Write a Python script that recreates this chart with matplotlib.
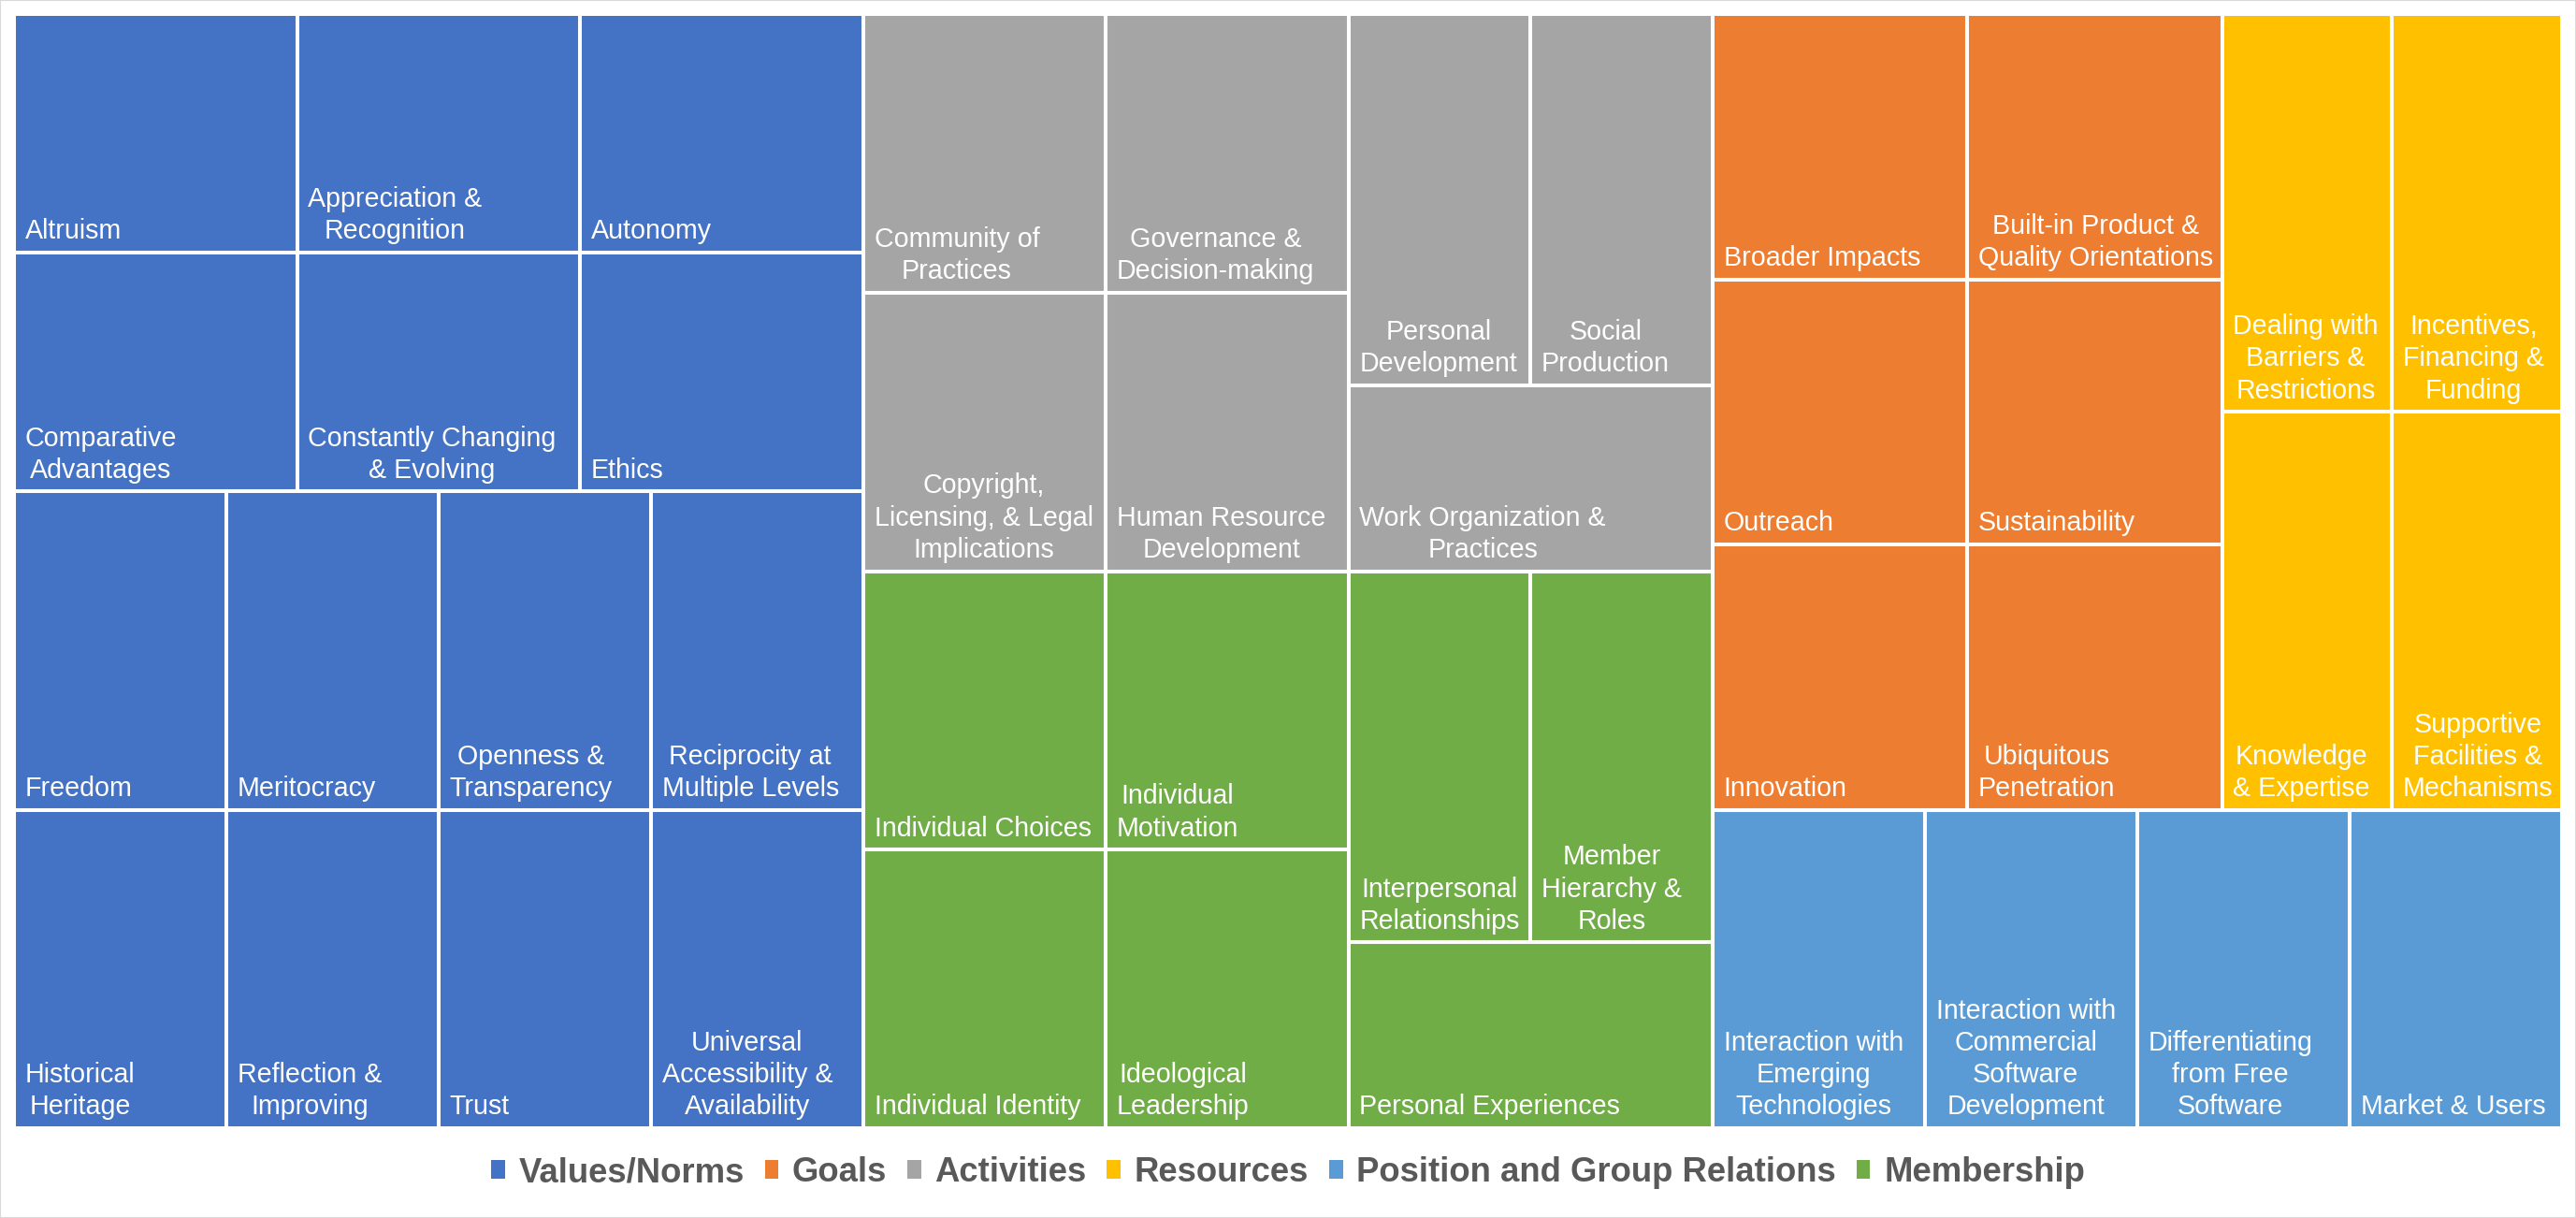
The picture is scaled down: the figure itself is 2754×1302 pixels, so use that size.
import matplotlib.pyplot as plt
from matplotlib.patches import Rectangle, Patch

plt.rcParams['font.family'] = ['Liberation Sans', 'DejaVu Sans']

# series in legend order
categories = ["Values/Norms", "Goals", "Activities", "Resources",
              "Position and Group Relations", "Membership"]
colors = ["#4472C4", "#ED7D31", "#A5A5A5", "#FFC000", "#5B9BD5", "#70AD47"]

values_labels = ["Altruism", "Appreciation &\nRecognition", "Autonomy",
                 "Comparative\nAdvantages", "Constantly Changing\n& Evolving", "Ethics",
                 "Freedom", "Meritocracy", "Openness &\nTransparency",
                 "Reciprocity at\nMultiple Levels",
                 "Historical\nHeritage", "Reflection &\nImproving", "Trust",
                 "Universal\nAccessibility &\nAvailability"]
values_sizes = [1, 1, 1, 1, 1, 1, 1, 1, 1, 1, 1, 1, 1, 1]

goals_labels = ["Broader Impacts", "Built-in Product &\nQuality Orientations",
                "Outreach", "Sustainability", "Innovation", "Ubiquitous\nPenetration"]
goals_sizes = [1, 1, 1, 1, 1, 1]

activities_labels = ["Community of\nPractices", "Copyright,\nLicensing, & Legal\nImplications",
                     "Governance &\nDecision-making", "Human Resource\nDevelopment",
                     "Personal\nDevelopment", "Social\nProduction",
                     "Work Organization &\nPractices"]
activities_sizes = [1, 1, 1, 1, 1, 1, 1]

resources_labels = ["Dealing with\nBarriers &\nRestrictions", "Incentives,\nFinancing &\nFunding",
                    "Knowledge\n& Expertise", "Supportive\nFacilities &\nMechanisms"]
resources_sizes = [1, 1, 1, 1]

position_labels = ["Interaction with\nEmerging\nTechnologies",
                   "Interaction with\nCommercial\nSoftware\nDevelopment",
                   "Differentiating\nfrom Free\nSoftware", "Market & Users"]
position_sizes = [1, 1, 1, 1]

membership_labels = ["Individual Choices", "Individual Identity", "Individual\nMotivation",
                     "Ideological\nLeadership", "Interpersonal\nRelationships",
                     "Member\nHierarchy &\nRoles", "Personal Experiences"]
membership_sizes = [1, 1, 1, 1, 1, 1, 1]

labels = [values_labels, goals_labels, activities_labels, resources_labels,
          position_labels, membership_labels]
sizes = [values_sizes, goals_sizes, activities_sizes, resources_sizes,
         position_sizes, membership_sizes]

# layout: order of groups and how each rectangle is cut into strips
group_order = [0, 2, 5, 1, 3, 4]
group_plan = [("col", 1), ("col", 2), ("row", 2), ("row", 1)]
item_plans = {
    0: [("row", 3), ("row", 3), ("row", 4), ("row", 4)],
    1: [("row", 2), ("row", 2), ("row", 2)],
    2: [("col", 2), ("col", 2), ("row", 2), ("row", 1)],
    3: [("row", 2), ("row", 2)],
    4: [("row", 4)],
    5: [("col", 2), ("col", 2), ("row", 2), ("row", 1)],
}


def strip_layout(vals, x, y, w, h, plan):
    rects = []
    i = 0
    for direction, n in plan:
        chunk = vals[i:i + n]
        frac = sum(chunk) / sum(vals[i:])
        pos = 0
        if direction == "row":
            band = h * frac
            for v in chunk:
                cw = w * v / sum(chunk)
                rects.append((x + pos, y, cw, band))
                pos += cw
            y += band
            h -= band
        else:
            band = w * frac
            for v in chunk:
                ch = h * v / sum(chunk)
                rects.append((x, y + pos, band, ch))
                pos += ch
            x += band
            w -= band
        i += n
    return rects


W, H = 2754, 1302
fig = plt.figure(figsize=(W / 100, H / 100), dpi=100)
fig.patch.set_facecolor("white")
ax = fig.add_axes([15 / W, (H - 1206) / H, 2724 / W, 1191 / H])
ax.set_xlim(0, 1)
ax.set_ylim(1, 0)
ax.axis("off")

totals = [sum(sizes[g]) for g in group_order]
group_rects = strip_layout(totals, 0, 0, 1, 1, group_plan)

for g, (gx, gy, gw, gh) in zip(group_order, group_rects):
    cells = strip_layout(sizes[g], gx, gy, gw, gh, item_plans[g])
    for lab, (cx, cy, cw, ch) in zip(labels[g], cells):
        ax.add_patch(Rectangle((cx, cy), cw, ch, facecolor=colors[g],
                               edgecolor="white", linewidth=2.9))
        ax.annotate(lab, xy=(cx, cy + ch), xytext=(8.3, 6.3),
                    textcoords="offset points", ha="left", va="bottom",
                    multialignment="center", color="white", fontsize=20.6,
                    linespacing=1.28)

handles = [Patch(facecolor=c, edgecolor="none") for c in colors]
leg = fig.legend(handles, categories, loc="center", bbox_to_anchor=(0.5, 0.037),
                 ncol=6, frameon=False, handlelength=0.4, handleheight=0.45,
                 handletextpad=0.4, columnspacing=0.6,
                 prop={"weight": "bold", "size": 26.3})
for t in leg.get_texts():
    t.set_color("#595959")

fig.add_artist(Rectangle((0, 0), 1, 1, transform=fig.transFigure, fill=False,
                         edgecolor="#D9D9D9", linewidth=1.5))

fig.savefig("out.png", dpi=100)
